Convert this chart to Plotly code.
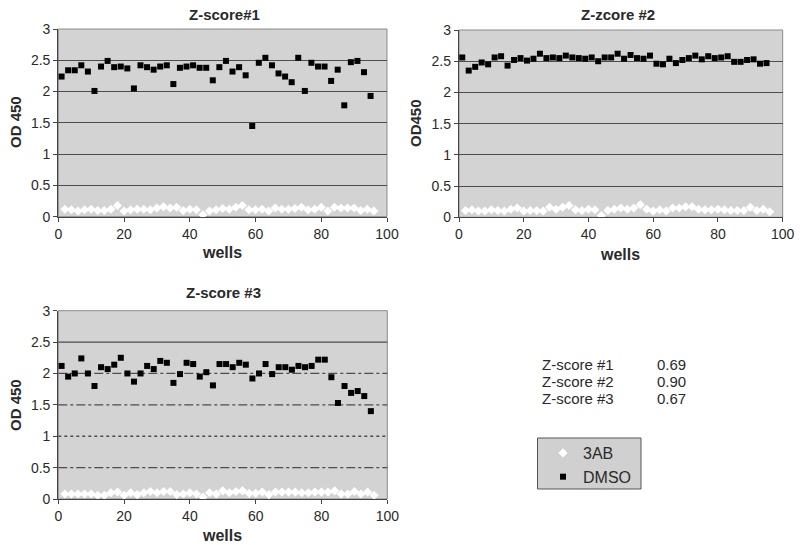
import plotly.graph_objects as go

# ---------------- data ----------------
dmso_wells = list(range(1, 96, 2))   # 1,3,...,95
ab_wells = list(range(2, 97, 2))     # 2,4,...,96

dmso_1 = [2.24, 2.34, 2.34, 2.42, 2.32, 2.01, 2.40, 2.49, 2.39, 2.40, 2.37, 2.05,
          2.42, 2.39, 2.35, 2.40, 2.42, 2.12, 2.38, 2.40, 2.42, 2.38, 2.38, 2.18,
          2.39, 2.49, 2.32, 2.39, 2.26, 1.45, 2.46, 2.54, 2.42, 2.29, 2.24, 2.15,
          2.54, 2.01, 2.46, 2.40, 2.40, 2.17, 2.35, 1.78, 2.47, 2.49, 2.31, 1.93]
ab_1 = [0.12, 0.11, 0.09, 0.11, 0.12, 0.10, 0.10, 0.12, 0.18, 0.09, 0.11, 0.12,
        0.12, 0.11, 0.14, 0.16, 0.14, 0.15, 0.10, 0.12, 0.11, 0.03, 0.09, 0.11,
        0.13, 0.12, 0.15, 0.18, 0.11, 0.11, 0.12, 0.09, 0.14, 0.12, 0.12, 0.13,
        0.15, 0.11, 0.12, 0.15, 0.09, 0.15, 0.14, 0.14, 0.14, 0.10, 0.12, 0.09]

dmso_2 = [2.56, 2.35, 2.41, 2.48, 2.45, 2.56, 2.58, 2.43, 2.52, 2.55, 2.51, 2.54,
          2.62, 2.55, 2.56, 2.55, 2.59, 2.56, 2.55, 2.54, 2.56, 2.50, 2.56, 2.56,
          2.62, 2.54, 2.60, 2.55, 2.54, 2.59, 2.46, 2.45, 2.54, 2.47, 2.52, 2.55,
          2.59, 2.53, 2.58, 2.55, 2.56, 2.58, 2.49, 2.49, 2.52, 2.53, 2.46, 2.47]
ab_2 = [0.11, 0.12, 0.10, 0.10, 0.12, 0.11, 0.10, 0.13, 0.15, 0.10, 0.11, 0.11,
        0.10, 0.16, 0.13, 0.16, 0.19, 0.12, 0.11, 0.13, 0.12, 0.03, 0.11, 0.13,
        0.15, 0.13, 0.15, 0.20, 0.13, 0.10, 0.12, 0.10, 0.15, 0.15, 0.17, 0.17,
        0.13, 0.12, 0.12, 0.13, 0.12, 0.11, 0.11, 0.11, 0.16, 0.11, 0.13, 0.09]

dmso_3 = [2.12, 1.95, 2.00, 2.24, 2.00, 1.80, 2.10, 2.07, 2.14, 2.25, 2.00, 1.87,
          2.00, 2.12, 2.07, 2.20, 2.17, 1.85, 1.99, 2.17, 2.15, 1.95, 2.02, 1.81,
          2.15, 2.15, 2.10, 2.17, 2.14, 1.92, 2.00, 2.15, 1.99, 2.10, 2.10, 2.06,
          2.12, 2.10, 2.12, 2.22, 2.22, 1.94, 1.53, 1.80, 1.69, 1.72, 1.64, 1.40]
ab_3 = [0.08, 0.08, 0.08, 0.08, 0.08, 0.06, 0.06, 0.10, 0.11, 0.06, 0.10, 0.07,
        0.10, 0.12, 0.10, 0.12, 0.12, 0.07, 0.08, 0.10, 0.08, 0.03, 0.10, 0.08,
        0.13, 0.10, 0.12, 0.13, 0.09, 0.09, 0.11, 0.07, 0.11, 0.11, 0.11, 0.11,
        0.10, 0.10, 0.11, 0.11, 0.11, 0.13, 0.08, 0.08, 0.12, 0.08, 0.11, 0.06]

titles = ["Z-score#1", "Z-zcore #2", "Z-score #3"]
ylabels = ["OD 450", "OD450", "OD 450"]
x_ticks = [0, 20, 40, 60, 80, 100]
y_ticks = [0, 0.5, 1, 1.5, 2, 2.5, 3]
grid3_vals = [0.5, 1, 1.5, 2, 2.5]
grid3_dash = ["dashdot", "dot", "dashdot", "dashdot", "solid"]
zscore_names = ["Z-score #1", "Z-score #2", "Z-score #3"]
zscore_vals = ["0.69", "0.90", "0.67"]

# ---------------- layout geometry ----------------
W, H = 800, 545
def px_x(p): return p / W
def px_y(p): return 1 - p / H

domains = [
    dict(x=[px_x(58.3), px_x(387)], y=[px_y(216.7), px_y(29)]),
    dict(x=[px_x(459), px_x(782.7)], y=[px_y(217.3), px_y(30)]),
    dict(x=[px_x(58.3), px_x(387.3)], y=[px_y(499), px_y(310.7)]),
]

FONT = "Liberation Sans, Arial, sans-serif"
TXT = "#2a2a2a"
BG = "#d3d3d3"
GRID = "#4d4d4d"

fig = go.Figure()
data = [(dmso_1, ab_1), (dmso_2, ab_2), (dmso_3, ab_3)]
for i, (dm, ab) in enumerate(data):
    xa = "x" if i == 0 else f"x{i+1}"
    ya = "y" if i == 0 else f"y{i+1}"
    fig.add_trace(go.Scatter(
        x=ab_wells, y=ab, mode="markers", xaxis=xa, yaxis=ya,
        name="3AB", showlegend=(i == 0), cliponaxis=False,
        marker=dict(symbol="diamond", size=7, color="white", line=dict(width=0)),
    ))
    fig.add_trace(go.Scatter(
        x=dmso_wells, y=dm, mode="markers", xaxis=xa, yaxis=ya,
        name="DMSO", showlegend=(i == 0), cliponaxis=False,
        marker=dict(symbol="square", size=6, color="black", line=dict(width=0)),
    ))

layout = dict(
    width=W, height=H,
    margin=dict(l=0, r=0, t=0, b=0, autoexpand=False),
    paper_bgcolor="white",
    plot_bgcolor=BG,
    font=dict(family=FONT, color=TXT, size=13),
    legend=dict(
        x=px_x(543), y=px_y(436), xanchor="left", yanchor="top",
        bgcolor="rgba(0,0,0,0)", borderwidth=0,
        font=dict(family=FONT, size=16, color=TXT),
        tracegroupgap=0, itemwidth=30,
    ),
)

for i, d in enumerate(domains):
    xk = "xaxis" if i == 0 else f"xaxis{i+1}"
    yk = "yaxis" if i == 0 else f"yaxis{i+1}"
    yanchor = "y" if i == 0 else f"y{i+1}"
    xanchor = "x" if i == 0 else f"x{i+1}"
    layout[xk] = dict(
        domain=d["x"], anchor=yanchor, range=[0, 100], tickvals=x_ticks,
        showgrid=False, zeroline=False, showline=True, linecolor="#444444",
        linewidth=1.3, mirror=False, ticks="outside", ticklen=4,
        tickcolor="#444444", tickfont=dict(size=14, color=TXT),
        automargin=False, fixedrange=True,
    )
    layout[yk] = dict(
        domain=d["y"], anchor=xanchor, range=[0, 3], tickvals=y_ticks,
        showgrid=(i != 2), gridcolor=GRID, gridwidth=1.3,
        zeroline=False, showline=True, linecolor="#444444", linewidth=1.3,
        ticks="outside", ticklen=4, tickcolor="#444444",
        tickfont=dict(size=14, color=TXT), automargin=False, fixedrange=True,
    )

fig.update_layout(**layout)

shapes = []
# panel borders (top/right lighter)
for i in range(3):
    xr = "x domain" if i == 0 else f"x{i+1} domain"
    yr = "y domain" if i == 0 else f"y{i+1} domain"
    shapes.append(dict(type="rect", xref=xr, yref=yr, x0=0, x1=1, y0=0, y1=1,
                       line=dict(color="#8a8a8a", width=1), layer="below"))
# panel 3 gridlines with mixed dash styles
for v, dsh in zip(grid3_vals, grid3_dash):
    shapes.append(dict(type="line", xref="x3 domain", yref="y3", x0=0, x1=1,
                       y0=v, y1=v, layer="below",
                       line=dict(color=GRID, width=1.3, dash=dsh)))
# legend box
shapes.append(dict(type="rect", xref="paper", yref="paper",
                   x0=px_x(537.5), x1=px_x(641), y0=px_y(489), y1=px_y(438),
                   fillcolor="#d0d0d0", line=dict(color="#555555", width=1),
                   layer="below"))
fig.update_layout(shapes=shapes)

ann = []
title_pos = [(224, 14), (618, 14), (223, 292)]
for t, (cx, cy) in zip(titles, title_pos):
    ann.append(dict(text=f"<b>{t}</b>", x=px_x(cx), y=px_y(cy), xref="paper",
                    yref="paper", showarrow=False, xanchor="center",
                    yanchor="middle", font=dict(size=15, color=TXT)))
wells_pos = [(222, 253), (620, 254), (222, 535)]
for (cx, cy) in wells_pos:
    ann.append(dict(text="<b>wells</b>", x=px_x(cx), y=px_y(cy), xref="paper",
                    yref="paper", showarrow=False, xanchor="center",
                    yanchor="middle", font=dict(size=16, color=TXT)))
ylab_pos = [(15, 122), (415, 123), (15, 405)]
for t, (cx, cy) in zip(ylabels, ylab_pos):
    ann.append(dict(text=f"<b>{t}</b>", x=px_x(cx), y=px_y(cy), xref="paper",
                    yref="paper", showarrow=False, xanchor="center",
                    yanchor="middle", textangle=-90,
                    font=dict(size=15, color=TXT)))
for k, (nm, vl) in enumerate(zip(zscore_names, zscore_vals)):
    cy = 364 + 17 * k
    ann.append(dict(text=nm, x=px_x(540), y=px_y(cy), xref="paper", yref="paper",
                    showarrow=False, xanchor="left", yanchor="middle",
                    font=dict(size=15, color=TXT)))
    ann.append(dict(text=vl, x=px_x(655), y=px_y(cy), xref="paper", yref="paper",
                    showarrow=False, xanchor="left", yanchor="middle",
                    font=dict(size=15, color=TXT)))
fig.update_layout(annotations=ann)

fig.write_html("out.html", config={"displayModeBar": False},
               post_script="document.body.style.margin='0';document.body.style.overflow='hidden';")
